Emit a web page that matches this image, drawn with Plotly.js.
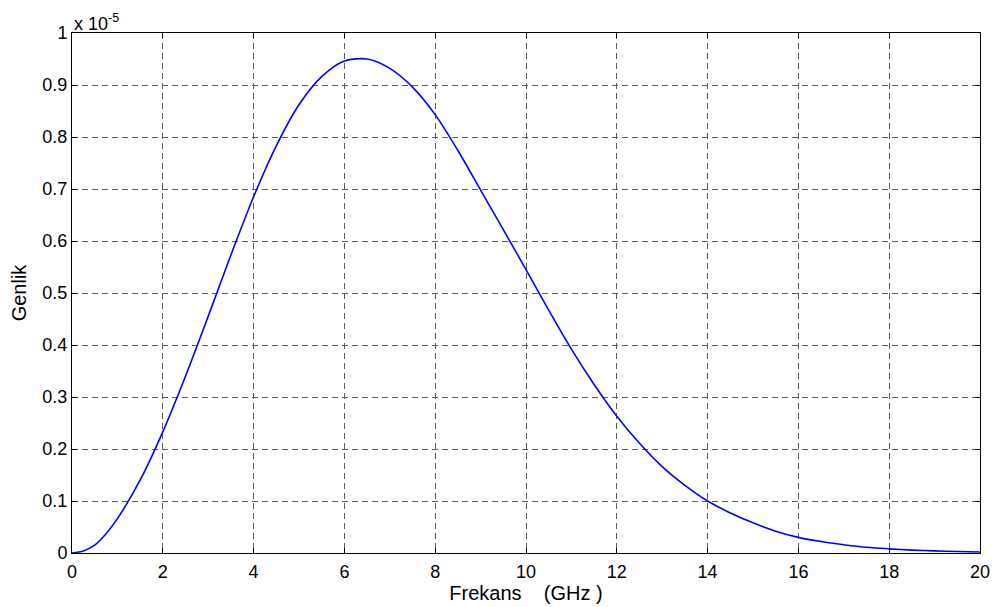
<!DOCTYPE html>
<html>
<head>
<meta charset="utf-8">
<script src="https://cdn.plot.ly/plotly-3.0.1.min.js"></script>
<style>
  html, body { margin: 0; padding: 0; background: #ffffff; }
  #chart { width: 998px; height: 607px; }
</style>
</head>
<body>
<div id="chart"></div>
<script>
// Frequency (GHz)
const frekans = [0, 0.25, 0.5, 0.75, 1, 1.5, 2, 2.5, 3, 3.5, 4, 4.5, 5, 5.5, 6, 6.5, 7, 7.5, 8, 8.5, 9, 9.5,
                 10, 10.5, 11, 11.5, 12, 12.5, 13, 13.5, 14, 14.5, 15, 15.5, 16, 16.5, 17, 17.5,
                 18, 18.5, 19, 19.5, 20];
// Amplitude, in units of 1e-5
const genlik = [0, 0.004, 0.015, 0.037, 0.066, 0.140, 0.233, 0.340, 0.455, 0.573, 0.685, 0.783, 0.862, 0.916,
                0.946, 0.950, 0.932, 0.896, 0.843, 0.774, 0.698, 0.622, 0.545, 0.467, 0.392,
                0.324, 0.263, 0.211, 0.166, 0.130, 0.100, 0.077, 0.058, 0.042, 0.030, 0.022,
                0.016, 0.011, 0.008, 0.0056, 0.004, 0.003, 0.002];
const xTicks = [0, 2, 4, 6, 8, 10, 12, 14, 16, 18, 20];
const yTicks = [0, 0.1, 0.2, 0.3, 0.4, 0.5, 0.6, 0.7, 0.8, 0.9, 1];
const yTickLabels = ['0', '0.1', '0.2', '0.3', '0.4', '0.5', '0.6', '0.7', '0.8', '0.9', '1'];

const FONT = 'Arial, "Liberation Sans", Helvetica, sans-serif';

const trace = {
  x: frekans,
  y: genlik,
  type: 'scatter',
  mode: 'lines',
  line: { color: '#0000ff', width: 1.6, shape: 'spline', smoothing: 0.8 },
  hoverinfo: 'x+y'
};

const axisCommon = {
  showline: true,
  linecolor: '#000000',
  linewidth: 1,
  mirror: 'ticks',
  ticks: 'inside',
  ticklen: 5,
  tickwidth: 1,
  tickcolor: '#000000',
  showgrid: true,
  gridcolor: '#5a5a5a',
  gridwidth: 1,
  griddash: '6px,4px',
  zeroline: false,
  tickfont: { family: FONT, size: 18, color: '#000000' }
};

const layout = {
  width: 998,
  height: 607,
  paper_bgcolor: '#ffffff',
  plot_bgcolor: '#ffffff',
  margin: { l: 72, r: 18, t: 33, b: 54 },
  showlegend: false,
  xaxis: Object.assign({}, axisCommon, {
    range: [0, 20],
    tickmode: 'array',
    tickvals: xTicks,
    ticktext: xTicks.map(String),
    ticklabelstandoff: 2,
    title: { text: 'Frekans    (GHz )', font: { family: FONT, size: 20, color: '#000000' }, standoff: 4 }
  }),
  yaxis: Object.assign({}, axisCommon, {
    range: [0, 1],
    tickmode: 'array',
    tickvals: yTicks,
    ticktext: yTickLabels,
    title: { text: 'Genlik', font: { family: FONT, size: 20, color: '#000000' }, standoff: 10 }
  }),
  annotations: [{
    xref: 'paper', yref: 'paper',
    x: 0, y: 1,
    xanchor: 'left', yanchor: 'bottom',
    showarrow: false,
    text: 'x 10<sup>-5</sup>',
    font: { family: FONT, size: 18, color: '#000000' },
    yshift: -3
  }]
};

Plotly.newPlot('chart', [trace], layout, { displayModeBar: false, staticPlot: true });
</script>
</body>
</html>
